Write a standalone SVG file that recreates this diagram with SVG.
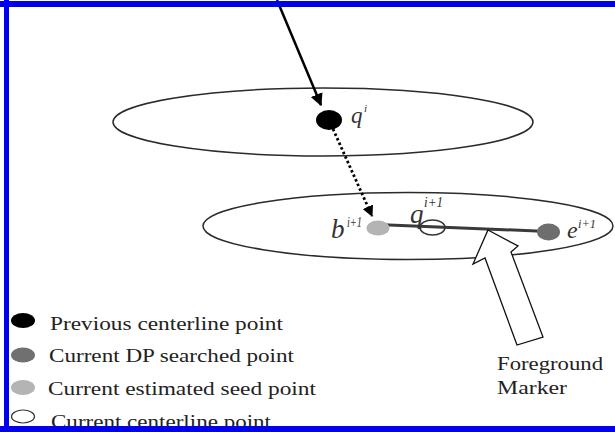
<svg xmlns="http://www.w3.org/2000/svg" width="615" height="432" viewBox="0 0 615 432">
<style>
.ring{fill:none;stroke:#2a2a2a;stroke-width:1.5}
.lbl{font-family:"Liberation Serif","Times New Roman",serif;font-style:italic;fill:#333}
.big{font-size:27px}
.sup{font-size:14px}
.leg{font-family:"Liberation Serif","Times New Roman",serif;font-size:19.5px;fill:#222}
.border{fill:#0000f0}
</style>
<defs>
<marker id="ah" viewBox="0 0 10 10" refX="9" refY="5" markerWidth="5" markerHeight="5" markerUnits="strokeWidth" orient="auto">
<path d="M0,0 L10,5 L0,10 z" fill="#000"/>
</marker>
<marker id="ahs" viewBox="0 0 10 10" refX="9" refY="5" markerWidth="4" markerHeight="4" markerUnits="strokeWidth" orient="auto">
<path d="M0,0 L10,5 L0,10 z" fill="#000"/>
</marker>
</defs>
<rect width="615" height="432" fill="#fff"/>

<g id="slice-top">
<ellipse class="ring" cx="323" cy="122" rx="210" ry="34" fill="#fff"/>
</g>
<g id="slice-bottom">
<ellipse class="ring" cx="408" cy="226" rx="205" ry="33.5" fill="#fff"/>
</g>

<g id="connectors">
<line x1="277" y1="0" x2="321" y2="105" stroke="#000" stroke-width="2.5" marker-end="url(#ah)"/>
<line x1="333" y1="129" x2="372" y2="216" stroke="#000" stroke-width="2.8" stroke-dasharray="2.5 2.5" marker-end="url(#ahs)"/>
<line x1="377" y1="224.5" x2="548" y2="231.5" stroke="#3a3a3a" stroke-width="3"/>
</g>

<g id="point-q-i">
<ellipse cx="329" cy="120" rx="13" ry="10" fill="#000"/>
<text class="lbl" x="351" y="123" font-size="23">q</text>
<text class="lbl" x="364" y="112" font-size="11">i</text>
</g>

<g id="point-b">
<ellipse cx="378" cy="228" rx="11.5" ry="7.5" fill="#b4b4b4"/>
<text class="lbl big" x="331" y="238">b</text>
<text class="lbl sup" x="347" y="227" textLength="15" lengthAdjust="spacingAndGlyphs">i+1</text>
</g>

<g id="point-q-next">
<ellipse cx="432.5" cy="227.5" rx="12.5" ry="7.5" fill="none" stroke="#333" stroke-width="1.5"/>
<text class="lbl big" x="410" y="223">q</text>
<text class="lbl sup" x="424" y="207" textLength="19" lengthAdjust="spacingAndGlyphs">i+1</text>
</g>

<g id="point-e">
<ellipse cx="548.5" cy="232" rx="11.5" ry="8.5" fill="#6e6e6e"/>
<text class="lbl" x="567" y="238" font-size="24">e</text>
<text class="lbl" x="578" y="228" font-size="13" textLength="18" lengthAdjust="spacingAndGlyphs">i+1</text>
</g>

<g id="foreground-marker">
<polygon points="488,230 518,246 511,252 543,337 517,345 485,258 473,264" fill="#fff" stroke="#111" stroke-width="1.3" stroke-linejoin="miter"/>
<text class="leg" x="497" y="370" textLength="106" lengthAdjust="spacingAndGlyphs">Foreground</text>
<text class="leg" x="497" y="394" textLength="70" lengthAdjust="spacingAndGlyphs">Marker</text>
</g>

<g id="legend-previous">
<ellipse cx="23" cy="320.5" rx="12" ry="7.5" fill="#000"/>
<text class="leg" x="50" y="330" textLength="233" lengthAdjust="spacingAndGlyphs">Previous centerline point</text>
</g>
<g id="legend-dp">
<ellipse cx="23" cy="355" rx="12" ry="7.5" fill="#707070"/>
<text class="leg" x="49" y="362" textLength="245" lengthAdjust="spacingAndGlyphs">Current DP searched point</text>
</g>
<g id="legend-seed">
<ellipse cx="23" cy="387.5" rx="12" ry="7.5" fill="#b4b4b4"/>
<text class="leg" x="48" y="395" textLength="268" lengthAdjust="spacingAndGlyphs">Current estimated seed point</text>
</g>
<g id="legend-centerline">
<ellipse cx="23" cy="416.5" rx="11.5" ry="6.5" fill="#fff" stroke="#333" stroke-width="1.2"/>
<text class="leg" x="51" y="428" textLength="220" lengthAdjust="spacingAndGlyphs">Current centerline point</text>
</g>

<g id="frame">
<rect class="border" x="0" y="1" width="615" height="6"/>
<rect class="border" x="4" y="0" width="5" height="432"/>
<rect class="border" x="0" y="426" width="615" height="6"/>
</g>
</svg>
